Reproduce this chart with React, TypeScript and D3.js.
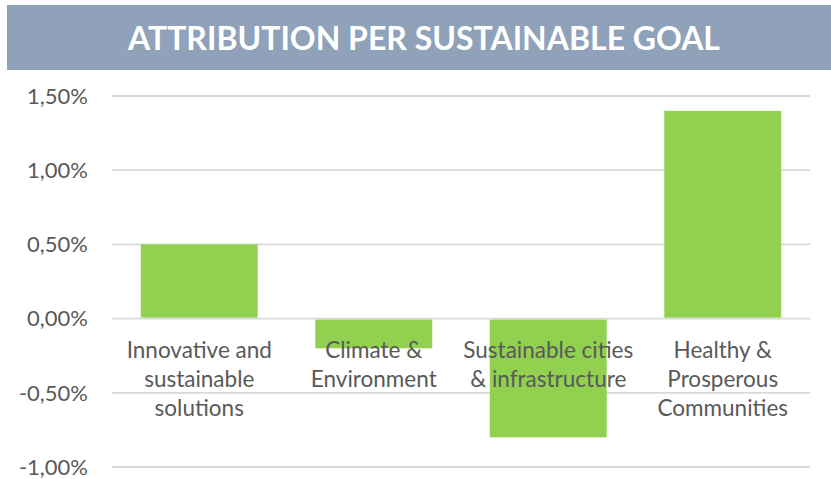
import React, { useEffect, useRef } from 'react';
import * as d3 from 'd3';

const categories = [
  'Innovative and sustainable solutions',
  'Climate & Environment',
  'Sustainable cities & infrastructure',
  'Healthy & Prosperous Communities',
];
const categoryLines = [
  ['Innovative and', 'sustainable', 'solutions'],
  ['Climate &', 'Environment'],
  ['Sustainable cities', '& infrastructure'],
  ['Healthy &', 'Prosperous', 'Communities'],
];
const values = [0.005, -0.002, -0.008, 0.014];
const yTicks = [-0.01, -0.005, 0, 0.005, 0.01, 0.015];
const title = 'ATTRIBUTION PER SUSTAINABLE GOAL';

const W = 831;
const H = 479;

export default function App() {
  const svgRef = useRef<SVGSVGElement>(null);

  useEffect(() => {
    if (!svgRef.current) return;
    const svg = d3.select(svgRef.current);
    svg.selectAll('*').remove();

    const margin = { top: 96, right: 21, bottom: 12, left: 112 };
    const font = 'Lato, "Open Sans", sans-serif';
    const grey = '#595959';

    // title band
    svg.append('rect')
      .attr('x', 7).attr('y', 5)
      .attr('width', W - 7).attr('height', 65)
      .attr('fill', '#8FA2BA');
    svg.append('text')
      .attr('x', 424).attr('y', 50)
      .attr('text-anchor', 'middle')
      .attr('textLength', 592)
      .attr('lengthAdjust', 'spacingAndGlyphs')
      .style('font-family', font)
      .style('font-weight', 700)
      .style('font-size', '33px')
      .style('fill', '#fff')
      .text(title);

    const x = d3.scaleBand()
      .domain(categories)
      .range([margin.left, W - margin.right])
      .paddingInner(0.33)
      .paddingOuter(0.165);

    const y = d3.scaleLinear()
      .domain([-0.01, 0.015])
      .range([467, 96]);

    const fmt = (v: number) => d3.format('.2%')(v).replace('.', ',').replace('−', '-');

    // grid
    svg.append('g')
      .selectAll('line')
      .data(yTicks)
      .join('line')
      .attr('x1', margin.left).attr('x2', W - margin.right)
      .attr('y1', d => y(d)).attr('y2', d => y(d))
      .attr('stroke', '#D9D9D9')
      .attr('stroke-width', 1.8);

    svg.append('g')
      .selectAll('text')
      .data(yTicks)
      .join('text')
      .attr('x', 88)
      .attr('y', d => y(d))
      .attr('dy', '0.35em')
      .attr('text-anchor', 'end')
      .style('font-family', font)
      .style('font-size', '22px')
      .style('fill', grey)
      .text(d => fmt(d));

    // bars
    svg.append('g')
      .selectAll('rect')
      .data(values)
      .join('rect')
      .attr('x', (d, i) => x(categories[i]) || 0)
      .attr('width', x.bandwidth())
      .attr('y', d => (d >= 0 ? y(d) : y(0) + 1))
      .attr('height', d => Math.abs(y(d) - y(0)) - 1)
      .attr('fill', '#92D050');

    // category labels
    const lab = svg.append('g');
    categoryLines.forEach((lines, i) => {
      const cx = (x(categories[i]) || 0) + x.bandwidth() / 2;
      lines.forEach((ln, j) => {
        lab.append('text')
          .attr('x', cx)
          .attr('y', y(0) + 39 + j * 29)
          .attr('text-anchor', 'middle')
          .style('font-family', font)
          .style('font-size', '22.5px')
          .style('fill', grey)
          .text(ln);
      });
    });
  }, []);

  return (
    <svg
      ref={svgRef}
      width={W}
      height={H}
      style={{ position: 'absolute', left: 0, top: 0, background: '#fff' }}
    />
  );
}
